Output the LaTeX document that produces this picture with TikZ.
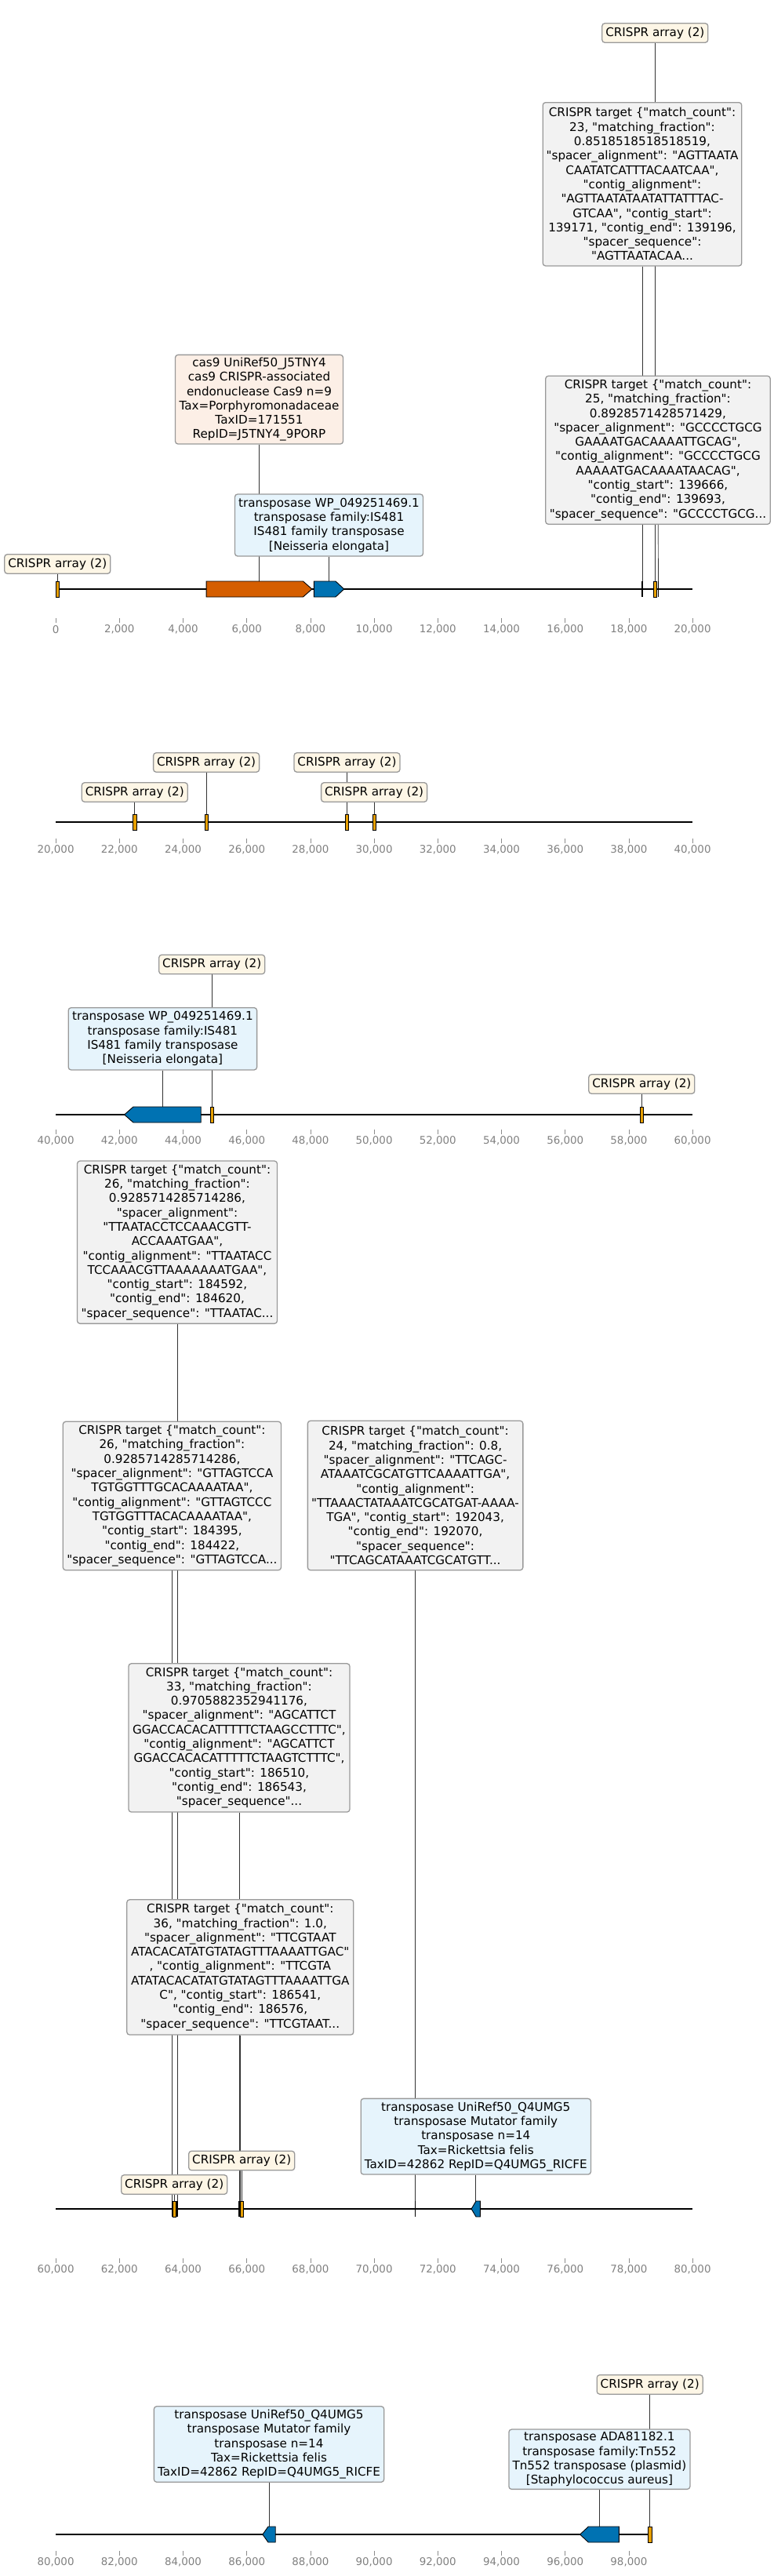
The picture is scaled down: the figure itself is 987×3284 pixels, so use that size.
\documentclass[tikz,border=0pt]{standalone}
\usepackage{fontspec}
\setmainfont{DejaVu Sans}
\newfontfamily\plainsans{DejaVu Sans}
\usetikzlibrary{backgrounds}
\definecolor{arrcol}{HTML}{E69F00}
\definecolor{cascol}{HTML}{D55E00}
\definecolor{tnpcol}{HTML}{0072B2}
\definecolor{arrlight}{HTML}{FDF6E6}
\definecolor{caslight}{HTML}{FCEFE6}
\definecolor{tnplight}{HTML}{E6F4FC}
\definecolor{tgtlight}{HTML}{F2F2F2}

\begin{document}
\begin{tikzpicture}[x=1pt,y=-1pt]
        \tikzstyle{lbl}=[draw=black!40, line width=1.3pt, rounded corners=3.5pt, align=center, inner sep=0pt, font=\plainsans\fontsize{15.2}{18.3}\selectfont]
        \tikzstyle{arrlbl}=[lbl, fill=arrlight, minimum width=135pt, minimum height=24.5pt]
        \tikzstyle{tgtlbl}=[lbl, fill=tgtlight]
        \tikzstyle{tnplbl}=[lbl, fill=tnplight]
        \tikzstyle{caslbl}=[lbl, fill=caslight]
        \tikzstyle{arrfeat}=[draw=black, line width=0.8pt, fill=arrcol, minimum width=4.4pt, minimum height=20pt, inner sep=0pt]
        \tikzstyle{tmark}=[fill=black, minimum width=1.6pt, minimum height=20pt, inner sep=0pt]
        \tikzstyle{gene}=[draw=black, line width=0.9pt]
        \tikzstyle{conn}=[black!80, line width=0.7pt]
        \tikzstyle{axis}=[black, line width=2pt]
        \tikzstyle{tick}=[black!45, line width=0.8pt]
        \tikzstyle{ticklbl}=[black!50, font=\plainsans\fontsize{13.4}{16}\selectfont, inner sep=0pt]
        \useasboundingbox (0,0) rectangle (987,3284);

        % 0 - 20,000
        \node[arrfeat] (arr1f) at (73.3,751) {};
        \draw[gene, fill=cascol] (263.1,741) -- (386.5,741) -- (397.8,751) -- (386.5,761) -- (263.1,761) -- cycle;
        \coordinate (cas9f) at (330.5,741);
        \draw[gene, fill=tnpcol] (400.3,741) -- (428,741) -- (438.7,751) -- (428,761) -- (400.3,761) -- cycle;
        \coordinate (tnp1f) at (419.5,741);
        \node[tmark] (tgt1f) at (819,751) {};
        \node[arrfeat] (arr2f) at (835.3,751) {};
        \node[tmark] (tgt2f) at (839.5,751) {};

        \node[arrlbl] (arr1) at (73.3,719) {CRISPR array (2)};
        \node[caslbl, minimum width=214pt, minimum height=113.7pt] (cas9) at (330.5,509.2) {cas9 UniRef50\_J5TNY4\\cas9 CRISPR-associated\\endonuclease Cas9 n=9\\Tax=Porphyromonadaceae\\TaxID=171551\\RepID=J5TNY4\_9PORP};
        \node[tnplbl, minimum width=240pt, minimum height=79pt] (tnp1) at (419.5,669.5) {transposase WP\_049251469.1\\transposase family:IS481\\IS481 family transposase\\{[}Neisseria elongata{]}};
        \node[tgtlbl, minimum width=253.6pt, minimum height=208.3pt] (tgt1) at (819,234.8) {CRISPR target \{"match\_count":\\23, "matching\_fraction":\\0.8518518518518519,\\"spacer\_alignment": "AGTTAATA\\CAATATCATTTACAATCAA",\\"contig\_alignment":\\"AGTTAATATAATATTATTTAC-\\GTCAA", "contig\_start":\\139171, "contig\_end": 139196,\\"spacer\_sequence":\\"AGTTAATACAA...};
        \node[arrlbl] (arr2) at (835.3,42) {CRISPR array (2)};
        \node[tgtlbl, minimum width=286.5pt, minimum height=189pt] (tgt2) at (839,573.8) {CRISPR target \{"match\_count":\\25, "matching\_fraction":\\0.8928571428571429,\\"spacer\_alignment": "GCCCCTGCG\\GAAAATGACAAAATTGCAG",\\"contig\_alignment": "GCCCCTGCG\\AAAAATGACAAAATAACAG",\\"contig\_start": 139666,\\"contig\_end": 139693,\\"spacer\_sequence": "GCCCCTGCG...};

        % 20,000 - 40,000
        \node[arrfeat] (arr3f) at (171.8,1048) {};
        \node[arrfeat] (arr4f) at (263.1,1048) {};
        \node[arrfeat] (arr5f) at (442.5,1048) {};
        \node[arrfeat] (arr6f) at (477.1,1048) {};
        \node[arrlbl] (arr3) at (171.8,1010) {CRISPR array (2)};
        \node[arrlbl] (arr4) at (263.1,972) {CRISPR array (2)};
        \node[arrlbl] (arr5) at (442.5,972) {CRISPR array (2)};
        \node[arrlbl] (arr6) at (477.1,1010) {CRISPR array (2)};

        % 40,000 - 60,000
        \draw[gene, fill=tnpcol] (256.2,1411) -- (170,1411) -- (158.6,1421) -- (170,1431) -- (256.2,1431) -- cycle;
        \coordinate (tnp2f) at (207.4,1411);
        \node[arrfeat] (arr7f) at (270.2,1421) {};
        \node[arrfeat] (arr8f) at (818.3,1421) {};
        \node[arrlbl] (arr7) at (270.2,1229.5) {CRISPR array (2)};
        \node[tnplbl, minimum width=240.4pt, minimum height=79.3pt] (tnp2) at (207.4,1324.3) {transposase WP\_049251469.1\\transposase family:IS481\\IS481 family transposase\\{[}Neisseria elongata{]}};
        \node[arrlbl] (arr8) at (818.3,1382) {CRISPR array (2)};

        % 60,000 - 80,000
        \node[tmark] (tgt4f) at (219.4,2816) {};
        \node[arrfeat] (arr9f) at (222.2,2816) {};
        \node[tmark] (tgt3f) at (226,2816) {};
        \node[tmark] (tgt6f) at (305,2816) {};
        \node[tmark] (tgt7f) at (306.3,2816) {};
        \node[arrfeat] (arr10f) at (308.2,2816) {};
        \node[tmark] (tgt5f) at (529.6,2816) {};
        \draw[gene, fill=tnpcol] (612.4,2806) -- (607,2806) -- (601.1,2816) -- (607,2826) -- (612.4,2826) -- cycle;
        \coordinate (tnp3f) at (606.8,2806);

        \node[tgtlbl, minimum width=255pt, minimum height=207.3pt] (tgt3) at (226,1583.7) {CRISPR target \{"match\_count":\\26, "matching\_fraction":\\0.9285714285714286,\\"spacer\_alignment":\\"TTAATACCTCCAAACGTT-\\ACCAAATGAA",\\"contig\_alignment": "TTAATACC\\TCCAAACGTTAAAAAAATGAA",\\"contig\_start": 184592,\\"contig\_end": 184620,\\"spacer\_sequence": "TTAATAC...};
        \node[tgtlbl, minimum width=278.2pt, minimum height=189.4pt] (tgt4) at (219.4,1907) {CRISPR target \{"match\_count":\\26, "matching\_fraction":\\0.9285714285714286,\\"spacer\_alignment": "GTTAGTCCA\\TGTGGTTTGCACAAAATAA",\\"contig\_alignment": "GTTAGTCCC\\TGTGGTTTACACAAAATAA",\\"contig\_start": 184395,\\"contig\_end": 184422,\\"spacer\_sequence": "GTTAGTCCA...};
        \node[tgtlbl, minimum width=274.5pt, minimum height=190.4pt] (tgt5) at (529.6,1906.5) {CRISPR target \{"match\_count":\\24, "matching\_fraction": 0.8,\\"spacer\_alignment": "TTCAGC-\\ATAAATCGCATGTTCAAAATTGA",\\"contig\_alignment":\\"TTAAACTATAAATCGCATGAT-AAAA-\\TGA", "contig\_start": 192043,\\"contig\_end": 192070,\\"spacer\_sequence":\\"TTCAGCATAAATCGCATGTT...};
        \node[tgtlbl, minimum width=282pt, minimum height=189.3pt] (tgt6) at (305,2215.4) {CRISPR target \{"match\_count":\\33, "matching\_fraction":\\0.9705882352941176,\\"spacer\_alignment": "AGCATTCT\\GGACCACACATTTTTCTAAGCCTTTC",\\"contig\_alignment": "AGCATTCT\\GGACCACACATTTTTCTAAGTCTTTC",\\"contig\_start": 186510,\\"contig\_end": 186543,\\"spacer\_sequence"...};
        \node[tgtlbl, minimum width=289pt, minimum height=172.3pt] (tgt7) at (306.3,2507.9) {CRISPR target \{"match\_count":\\36, "matching\_fraction": 1.0,\\"spacer\_alignment": "TTCGTAAT\\ATACACATATGTATAGTTTAAAATTGAC"\\, "contig\_alignment": "TTCGTA\\ATATACACATATGTATAGTTTAAAATTGA\\C", "contig\_start": 186541,\\"contig\_end": 186576,\\"spacer\_sequence": "TTCGTAAT...};
        \node[arrlbl] (arr9) at (222.2,2785) {CRISPR array (2)};
        \node[arrlbl] (arr10) at (308.2,2754.5) {CRISPR array (2)};
        \node[tnplbl, minimum width=293.3pt, minimum height=96.7pt] (tnp3) at (606.8,2723.7) {transposase UniRef50\_Q4UMG5\\transposase Mutator family\\transposase n=14\\Tax=Rickettsia felis\\TaxID=42862 RepID=Q4UMG5\_RICFE};

        % 80,000 - 98,700
        \draw[gene, fill=tnpcol] (351.2,3221) -- (342,3221) -- (334.9,3231) -- (342,3241) -- (351.2,3241) -- cycle;
        \coordinate (tnp4f) at (343,3221);
        \draw[gene, fill=tnpcol] (789.3,3221) -- (750.3,3221) -- (739.6,3231) -- (750.3,3241) -- (789.3,3241) -- cycle;
        \coordinate (tnp5f) at (764.4,3221);
        \node[arrfeat] (arr11f) at (828.7,3231) {};
        \node[tnplbl, minimum width=293.3pt, minimum height=96.6pt] (tnp4) at (343,3116) {transposase UniRef50\_Q4UMG5\\transposase Mutator family\\transposase n=14\\Tax=Rickettsia felis\\TaxID=42862 RepID=Q4UMG5\_RICFE};
        \node[tnplbl, minimum width=231pt, minimum height=76.3pt] (tnp5) at (764.4,3135.2) {transposase ADA81182.1\\transposase family:Tn552\\Tn552 transposase (plasmid)\\{[}Staphylococcus aureus{]}};
        \node[arrlbl] (arr11) at (828.7,3039.9) {CRISPR array (2)};

        \begin{pgfonlayer}{background}
        \draw[axis] (71.1,751) -- (883.1,751);
        \draw[axis] (71.1,1048) -- (883.1,1048);
        \draw[axis] (71.1,1421) -- (883.1,1421);
        \draw[axis] (71.1,2816) -- (883.1,2816);
        \draw[axis] (71.1,3231) -- (829.6,3231);
        \foreach \p/\ty/\s/\n in {1/788/0/10, 2/1069/20/10, 3/1440/40/10, 4/2879/60/10, 5/3252/80/9} {
            \foreach \k in {0,...,\n} {
                \pgfmathtruncatemacro\v{\s+2*\k}
                \draw[tick] (71.1+81.2*\k,\ty) -- ++(0,5.5);
                \node[ticklbl] (tl\p-\k) at (71.1+81.2*\k,\ty+14.5) {\ifnum\v=0 0\else\v,000\fi};
            }
        }
        \foreach \a in {arr1,arr2,arr3,arr4,arr5,arr6,arr7,arr8,arr9,arr10,arr11,tgt1,tgt2,tgt3,tgt4,tgt5,tgt6,tgt7,tnp1,tnp2,tnp3,tnp4,tnp5,cas9}
            \draw[conn] (\a) -- (\a f);
        \end{pgfonlayer}
\end{tikzpicture}
\end{document}
